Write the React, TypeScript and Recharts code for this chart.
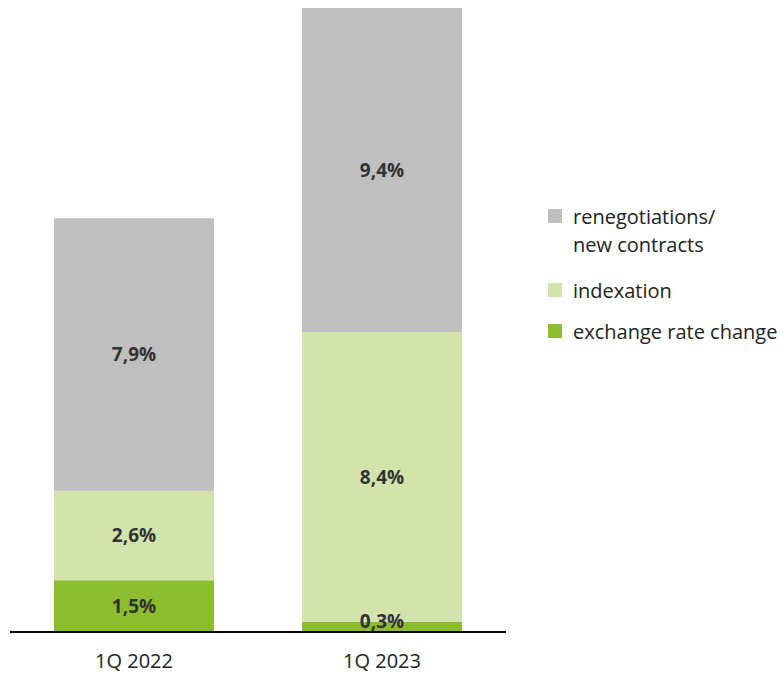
import React from 'react';
import { BarChart, Bar, XAxis, YAxis, LabelList } from 'recharts';

const quarters = ['1Q 2022', '1Q 2023'];
const exchangeRate = [1.5, 0.3];
const indexation = [2.6, 8.4];
const renegotiations = [7.9, 9.4];

const SERIES = [
  { key: 'exchange', name: 'exchange rate change', color: '#8BBD2F', values: exchangeRate },
  { key: 'indexation', name: 'indexation', color: '#D2E3AC', values: indexation },
  { key: 'renego', name: 'renegotiations/\nnew contracts', color: '#BFBFBF', values: renegotiations },
];

const data = quarters.map((q, i) => {
  const row: Record<string, string | number> = { quarter: q };
  SERIES.forEach((s) => { row[s.key] = s.values[i]; });
  return row;
});

const FONT = '"Open Sans", sans-serif';

const fmt = (v: number) => v.toFixed(1).replace('.', ',') + '%';

const SegmentLabel = (props: any) => {
  const { x, y, width, height, value } = props;
  const bottom = y + height;
  let cy = y + height / 2;
  if (cy > bottom - 11) cy = bottom - 11;
  return (
    <text x={x + width / 2} y={cy} textAnchor="middle" dominantBaseline="central"
      fontFamily={FONT} fontSize={19} fontWeight={700} fill="#333333">
      {fmt(value)}
    </text>
  );
};

// legend rows, top to bottom, with their top offsets
const LEGEND_TOPS = [203, 277, 318];

const LegendBox = () => {
  const items = [...SERIES].reverse();
  return (
    <div style={{ position: 'absolute', left: 548, top: 0, fontFamily: FONT, fontSize: 20, color: '#222', lineHeight: '28px' }}>
      {items.map((s, i) => (
        <div key={s.key} style={{ position: 'absolute', top: LEGEND_TOPS[i], left: 0, display: 'flex', alignItems: 'flex-start' }}>
          <span style={{ width: 14, height: 14, background: s.color, marginTop: 6, marginRight: 11, flex: 'none' }} />
          <span style={{ whiteSpace: 'pre' }}>{s.name}</span>
        </div>
      ))}
    </div>
  );
};

export default function App() {
  return (
    <div style={{ position: 'absolute', left: 0, top: 0, width: 784, height: 677, background: '#fff' }}>
      <BarChart width={784} height={677} data={data}
        margin={{ top: 8, right: 278, bottom: 0, left: 10 }} barCategoryGap={44}>
        <XAxis dataKey="quarter" axisLine={{ stroke: '#000', strokeWidth: 2 }} tickLine={false}
          height={45} tickMargin={16}
          tick={{ fontFamily: FONT, fontSize: 20, fill: '#222' }} />
        <YAxis hide domain={[0, 18.1]} />
        {SERIES.map((s) => (
          <Bar key={s.key} dataKey={s.key} stackId="a" fill={s.color} barSize={160}
            isAnimationActive={false}>
            <LabelList dataKey={s.key} content={<SegmentLabel />} />
          </Bar>
        ))}
      </BarChart>
      <LegendBox />
    </div>
  );
}
